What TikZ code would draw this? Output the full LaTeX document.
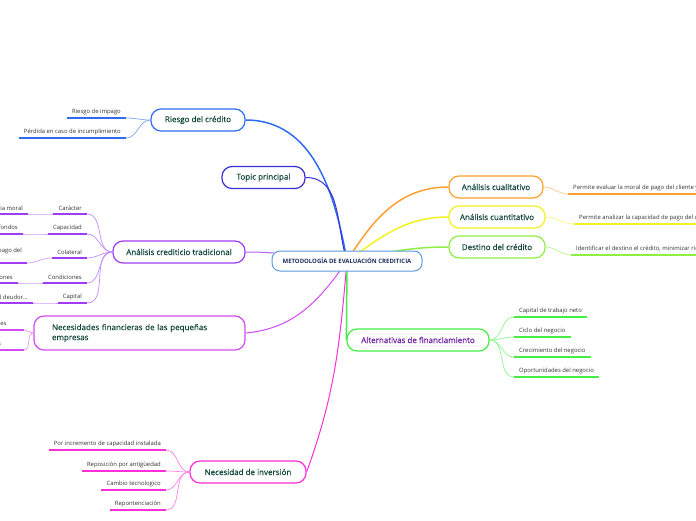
\documentclass[tikz,border=0pt]{standalone}
\usepackage{fontspec}
\setmainfont{Open Sans}
\newfontfamily\topicfont{Open Sans}[FakeBold=0.35]
\usepackage{tikz}
\usetikzlibrary{positioning,backgrounds}
\definecolor{rootblue}{HTML}{5A9BDC}
\definecolor{navytext}{HTML}{1C2E5E}
\definecolor{nodetext}{HTML}{12483A}
\definecolor{leaftext}{HTML}{333333}
\definecolor{riskblue}{HTML}{2F6CF2}
\definecolor{topicind}{HTML}{3B2FD6}
\definecolor{credpurple}{HTML}{9F3CF5}
\definecolor{necorchid}{HTML}{D24BF0}
\definecolor{invmagenta}{HTML}{FF2FD8}
\definecolor{cualorange}{HTML}{FFA033}
\definecolor{cuantyellow}{HTML}{F2F21E}
\definecolor{destlime}{HTML}{8EEE45}
\definecolor{altgreen}{HTML}{45EE45}
\definecolor{altpurple}{HTML}{6E22A0}
\tikzset{
  rootbox/.style={draw=rootblue,line width=1pt,rounded corners=8pt,fill=white,
                  minimum width=150pt,minimum height=20pt,
                  font=\fontsize{6}{7}\selectfont\bfseries,text=navytext},
  topicbox/.style={draw,line width=1.2pt,rounded corners=10pt,fill=white,
                   minimum height=22pt,inner xsep=10pt,
                   font=\topicfont\fontsize{8}{10}\selectfont,text=nodetext},
  leaf/.style={font=\fontsize{5.9}{7.5}\selectfont,text=leaftext,
               inner xsep=5pt,inner ysep=3pt},
  branch/.style={line width=1.5pt},
  twig/.style={line width=0.7pt},
  under/.style={line width=1.6pt},
}
\begin{document}
\begin{tikzpicture}[x=1pt,y=-1pt]

\useasboundingbox (0,0) rectangle (696,520);
\clip (0,0) rectangle (696,520);

% centre and main topics
\node[rootbox] (root) at (347,261) {METODOLOGÍA DE EVALUACIÓN CREDITICIA};

\node[topicbox, draw=riskblue, minimum width=94pt] (riesgo) at (198,120) {Riesgo del crédito};
\node[topicbox, draw=topicind, minimum width=83pt] (topic) at (263.5,177.5) {Topic principal};
\node[topicbox, draw=credpurple, minimum width=132pt] (cred) at (179,252) {Análisis crediticio tradicional};
\node[topicbox, draw=necorchid, minimum width=211pt, minimum height=34pt,
      inner xsep=18pt, text width=175pt, align=left] (nec) at (139.5,333)
  {Necesidades financieras de las pequeñas\\empresas};
\node[topicbox, draw=invmagenta, minimum width=116pt] (inv) at (248,472) {Necesidad de inversión};

\node[topicbox, draw=cualorange, minimum width=94pt] (cual) at (496,187) {Análisis cualitativo};
\node[topicbox, draw=cuantyellow, minimum width=96pt] (cuant) at (497,217) {Análisis cuantitativo};
\node[topicbox, draw=destlime, minimum width=96pt] (dest) at (497,247) {Destino del crédito};
\node[topicbox, draw=altgreen, text=altpurple, minimum width=142pt] (alt) at (418,340)
  {Alternativas de financiamiento};

% main branches
\begin{scope}[on background layer]
  \draw[branch, riskblue] (root.center) to[out=100,in=0] (riesgo.east);
  \draw[line width=1pt, topicind] (root.center) to[out=108,in=0] (topic.east);
  \draw[line width=1pt, credpurple!80] (root.center) to[out=175,in=0] (cred.east);
  \draw[line width=1pt, necorchid] (root.center) to[out=-125,in=5] (nec.east);
  \draw[line width=1pt, invmagenta] (root.center) to[out=-95,in=70] (inv.east);
  \draw[branch, cualorange] (root.center) to[out=58,in=180] (cual.west);
  \draw[branch, cuantyellow] (root.center) to[out=35,in=180] (cuant.west);
  \draw[branch, destlime] (root.center) to[out=12,in=180] (dest.west);
  \draw[branch, altgreen] (root.center) -- (alt.west);
\end{scope}

% Riesgo del credito
\node[leaf, anchor=south east] (r1) at (126,118) {Riesgo de impago};
\node[leaf, anchor=south east] (r2) at (126,138) {Pérdida en caso de incumplimiento};
\foreach \n in {r1,r2}{
  \draw[under, riskblue] (\n.south west) -- (\n.south east);
  \draw[twig, riskblue!60] (riesgo.west) to[out=180,in=0] (\n.south east);
}

% Analisis crediticio tradicional
\node[leaf, anchor=south east] (c1) at (87,214) {Carácter};
\node[leaf, anchor=south east] (c2) at (87,234) {Capacidad};
\node[leaf, anchor=south east] (c3) at (87,258) {Colateral};
\node[leaf, anchor=south east] (c4) at (87,283) {Condiciones};
\node[leaf, anchor=south east] (c5) at (87,303) {Capital};
\node[leaf, anchor=south east] (c1a) at (28,214) {Solvencia moral};
\node[leaf, anchor=south east] (c2a) at (23,234) {Origen de los fondos};
\node[leaf, anchor=south east, align=left] (c3a) at (27,263) {Garantía de pago del\\crédito};
\node[leaf, anchor=south east] (c4a) at (18,283) {Análisis de las condiciones};
\node[leaf, anchor=south east] (c5a) at (33,303) {Patrimonio del deudor...};
\foreach \n in {c1,c2,c3,c4,c5}{
  \draw[under, credpurple] (\n.south west) -- (\n.south east);
  \draw[under, credpurple] (\n a.south west) -- (\n a.south east);
  \draw[twig, credpurple!60] (cred.west) to[out=180,in=0] (\n.south east);
  \draw[twig, credpurple!50] (\n.south west) to[out=180,in=0] (\n a.south east);
}

% Necesidades financieras
\node[leaf, anchor=south east, text width=86pt, align=left] (n1) at (24,330) {Necesidades permanentes};
\node[leaf, anchor=south east, text width=86pt, align=left] (n2) at (24,350) {Necesidades temporales};
\foreach \n in {n1,n2}{
  \draw[under, necorchid] (\n.south west) -- (\n.south east);
  \draw[twig, necorchid!60] (nec.west) to[out=180,in=0] (\n.south east);
}

% Necesidad de inversion
\node[leaf, anchor=south east] (i1) at (166,450) {Por incremento de capacidad instalada};
\node[leaf, anchor=south east] (i2) at (166,471) {Reposición por antigüedad};
\node[leaf, anchor=south east] (i3) at (166,490) {Cambio tecnologico};
\node[leaf, anchor=south east] (i4) at (166,510) {Repontenciación};
\foreach \n in {i1,i2,i3,i4}{
  \draw[under, invmagenta] (\n.south west) -- (\n.south east);
  \draw[twig, invmagenta!60] (inv.west) to[out=180,in=0] (\n.south east);
}

% right side
\node[leaf, anchor=south west] (q1) at (568,194) {Permite evaluar la moral de pago del cliente y su historial};
\draw[under, cualorange] (q1.south west) -- (q1.south east);
\draw[twig, cualorange!60] (cual.east) to[out=0,in=180] (q1.south west);

\node[leaf, anchor=south west] (k1) at (574,224) {Permite analizar la capacidad de pago del cliente};
\draw[under, cuantyellow] (k1.south west) -- (k1.south east);
\draw[twig, cuantyellow!60] (cuant.east) to[out=0,in=180] (k1.south west);

\node[leaf, anchor=south west] (d1) at (571,255) {Identificar el destino el crédito, minimizar riesgos};
\draw[under, destlime] (d1.south west) -- (d1.south east);
\draw[twig, destlime!60] (dest.east) to[out=0,in=180] (d1.south west);

% Alternativas de financiamiento
\node[leaf, anchor=south west] (a1) at (514,317) {Capital de trabajo neto};
\node[leaf, anchor=south west] (a2) at (514,337) {Ciclo del negocio};
\node[leaf, anchor=south west] (a3) at (514,357) {Crecimiento del negocio};
\node[leaf, anchor=south west] (a4) at (514,377) {Oportunidades del negocio};
\foreach \n in {a1,a2,a3,a4}{
  \draw[under, altgreen] (\n.south west) -- (\n.south east);
  \draw[twig, altgreen!60] (alt.east) to[out=0,in=180] (\n.south west);
}

\end{tikzpicture}
\end{document}
